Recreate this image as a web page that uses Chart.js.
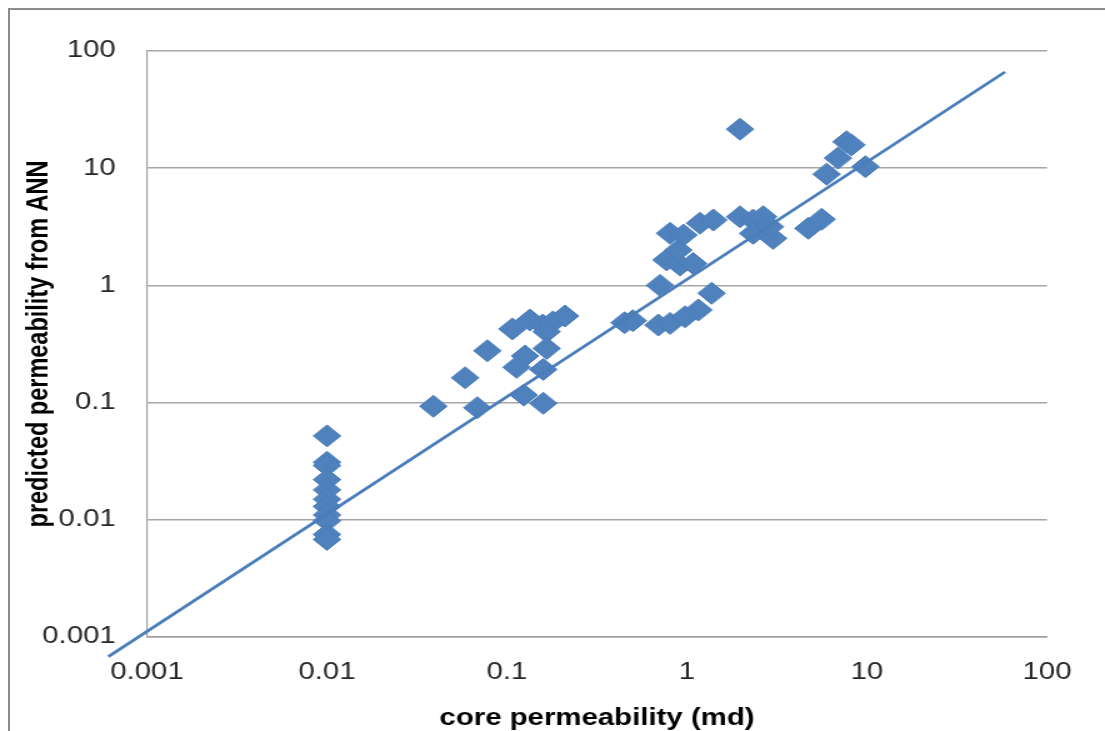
<!DOCTYPE html>
<html>
<head>
<meta charset="utf-8">
<title>core permeability vs ANN</title>
<script src="https://cdn.jsdelivr.net/npm/chart.js@4.4.1/dist/chart.umd.min.js"></script>
<style>
  html, body { margin: 0; padding: 0; background: #fff; overflow: hidden; }
  body { width: 1105px; height: 731px; position: relative; }
  /* outer frame of the Excel chart (right/bottom edges fall outside the picture) */
  #frame { position: absolute; left: 8px; top: 8px; width: 1200px; height: 900px; border: 2px solid #8c8c8c; box-sizing: border-box; }
  /* the source picture is stretched horizontally, so the chart is too */
  #wrap { position: absolute; left: 0; top: 0; width: 884px; height: 731px; transform: scaleX(1.25); transform-origin: 0 0; }
</style>
</head>
<body>
<div id="frame"></div>
<div id="wrap"><canvas id="permChart"></canvas></div>
<script>
// core permeability (md) vs predicted permeability from ANN
const tickValues = [0.001, 0.01, 0.1, 1, 10, 100];
const tickLabels = ['0.001', '0.01', '0.1', '1', '10', '100'];

const coreK = [
  0.01, 0.01, 0.01, 0.01, 0.01, 0.01, 0.01, 0.01, 0.01, 0.01, 0.01,
  0.039, 0.0585, 0.0684, 0.0778, 0.107, 0.134, 0.158, 0.18, 0.21, 0.166, 0.166, 0.126, 0.113, 0.159, 0.124, 0.159,
  0.45, 0.5, 0.693, 0.805, 0.975, 1.156, 1.37, 0.708,
  0.77, 0.914, 1.08, 0.895, 0.805, 0.955, 1.18, 1.4, 1.97, 2.33, 2.65, 2.33, 3.01, 2.89, 4.72, 5.6,
  1.97, 5.97, 6.9, 7.7, 8.2, 9.8
];
const annK = [
  0.052, 0.031, 0.029, 0.022, 0.018, 0.015, 0.013, 0.011, 0.0098, 0.0075, 0.0068,
  0.093, 0.163, 0.0905, 0.277, 0.425, 0.507, 0.459, 0.488, 0.548, 0.403, 0.29, 0.25, 0.2, 0.192, 0.116, 0.0987,
  0.48, 0.5, 0.459, 0.474, 0.54, 0.617, 0.857, 1.0,
  1.65, 1.49, 1.54, 2.0, 2.78, 2.69, 3.39, 3.61, 3.85, 3.61, 3.85, 2.78, 2.52, 3.17, 3.07, 3.67,
  21.5, 8.9, 12.2, 16.8, 15.8, 10.3
];

// trendline end points (it runs past the plot area on the left)
const trendX = [0.00061, 58.4];
const trendY = [0.00068, 66.2];

document.addEventListener('DOMContentLoaded', () => {
  const canvas = document.getElementById('permChart');
  const blue = '#4f81bd';
  const tickFont = { family: '"Liberation Sans", Arial, sans-serif', size: 23.5, lineHeight: 1.2 };
  const titleFont = { family: '"Liberation Sans", Arial, sans-serif', size: 23.5, weight: 'bold', lineHeight: 1.1 };

  const points = coreK.map((x, i) => ({ x, y: annK[i] }));
  const trend = trendX.map((x, i) => ({ x, y: trendY[i] }));

  const decadeTicks = scale => {
    scale.ticks = tickValues.map(v => ({ value: v }));
  };
  const tickText = v => {
    const i = tickValues.indexOf(v);
    return i >= 0 ? tickLabels[i] : '';
  };

  new Chart(canvas.getContext('2d'), {
    type: 'scatter',
    data: {
      datasets: [
        {
          type: 'line',
          label: 'trend',
          data: trend,
          borderColor: '#4a7ebb',
          borderWidth: 2.8,
          pointRadius: 0,
          fill: false,
          clip: false
        },
        {
          label: 'ANN',
          data: points,
          pointStyle: 'rectRot',
          pointRadius: 11,
          backgroundColor: blue,
          borderColor: '#4a7dba',
          borderWidth: 1
        }
      ]
    },
    options: {
      responsive: true,
      maintainAspectRatio: false,
      animation: false,
      layout: { padding: { top: 51, right: 46.4, bottom: 0, left: 0 } },
      plugins: {
        legend: { display: false },
        tooltip: { enabled: false }
      },
      scales: {
        x: {
          type: 'logarithmic',
          min: 0.001,
          max: 100,
          afterBuildTicks: decadeTicks,
          afterFit: s => { s.height = 94; },
          grid: { display: false, drawTicks: false },
          border: { display: true, color: '#a0a0a0', width: 1.5 },
          ticks: { callback: tickText, font: tickFont, color: '#262626', padding: 21, maxRotation: 0, autoSkip: false },
          title: { display: true, text: 'core permeability (md)', font: titleFont, color: '#000', padding: { top: 0, bottom: 0 } }
        },
        y: {
          type: 'logarithmic',
          min: 0.001,
          max: 100,
          afterBuildTicks: decadeTicks,
          afterFit: s => { s.width = 117.6; },
          grid: { color: '#a6a6a6', lineWidth: 1.5, drawTicks: false },
          border: { display: true, color: '#a0a0a0', width: 1.2 },
          ticks: { callback: tickText, font: tickFont, color: '#262626', padding: 25, autoSkip: false },
          title: { display: true, text: 'predicted permeability from ANN', font: titleFont, color: '#000', padding: { top: 19, bottom: 0 } }
        }
      }
    }
  });
});
</script>
</body>
</html>
